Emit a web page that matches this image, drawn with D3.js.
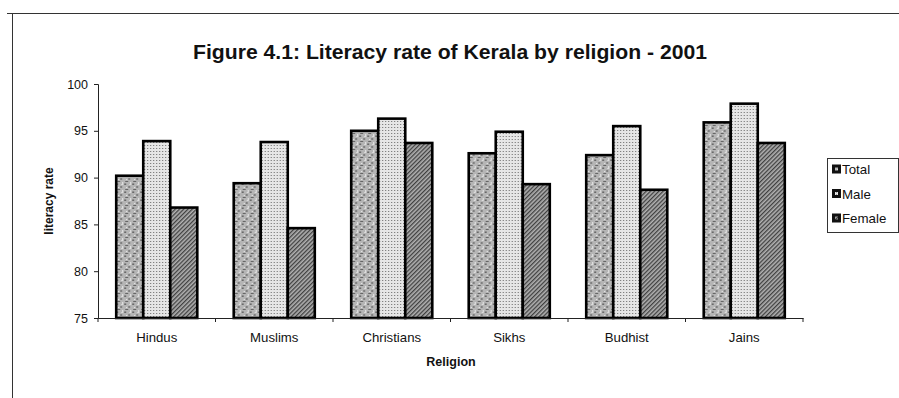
<!DOCTYPE html>
<html>
<head>
<meta charset="utf-8">
<script src="https://cdn.jsdelivr.net/npm/d3@7"></script>
<style>
  body { margin: 0; background: #fff; }
  text { font-family: "Liberation Sans", Arial, sans-serif; fill: #111; }
</style>
</head>
<body>
<div id="chart"></div>
<script>
// data
var religions = ["Hindus", "Muslims", "Christians", "Sikhs", "Budhist", "Jains"];
var series = ["Total", "Male", "Female"];
var totalRate  = [90.2, 89.4, 95.0, 92.6, 92.4, 95.9];
var maleRate   = [93.9, 93.8, 96.3, 94.9, 95.5, 97.9];
var femaleRate = [86.8, 84.6, 93.7, 89.3, 88.7, 93.7];
var yTicks = [75, 80, 85, 90, 95, 100];

var width = 899, height = 398;

var data = religions.map(function (r, i) {
  return { religion: r, Total: totalRate[i], Male: maleRate[i], Female: femaleRate[i] };
});

var svg = d3.select("#chart").append("svg")
  .attr("width", width)
  .attr("height", height);

// fill textures
var defs = svg.append("defs");

var pTotal = defs.append("pattern").attr("id", "pat-Total")
  .attr("patternUnits", "userSpaceOnUse").attr("width", 8).attr("height", 8);
pTotal.append("rect").attr("width", 8).attr("height", 8).attr("fill", "#b5b5b5");
[[0,0,2,1,"#6a6a6a"],[4,2,2,2,"#808080"],[1,5,3,1,"#666"],[6,6,1,2,"#e8e8e8"],[2,3,1,1,"#eee"],[5,0,2,1,"#ddd"],[0,7,2,1,"#8a8a8a"]]
  .forEach(function (r) {
    pTotal.append("rect").attr("x", r[0]).attr("y", r[1]).attr("width", r[2]).attr("height", r[3]).attr("fill", r[4]);
  });

var pMale = defs.append("pattern").attr("id", "pat-Male")
  .attr("patternUnits", "userSpaceOnUse").attr("width", 3).attr("height", 3);
pMale.append("rect").attr("width", 3).attr("height", 3).attr("fill", "#e6e6e6");
pMale.append("rect").attr("x", 1).attr("y", 1).attr("width", 1).attr("height", 1).attr("fill", "#666");

var pFemale = defs.append("pattern").attr("id", "pat-Female")
  .attr("patternUnits", "userSpaceOnUse").attr("width", 3).attr("height", 3)
  .attr("patternTransform", "rotate(45)");
pFemale.append("rect").attr("width", 3).attr("height", 3).attr("fill", "#b0b0b0");
pFemale.append("rect").attr("width", 1.3).attr("height", 3).attr("fill", "#404040");

// outer frame (only top and left edges show)
svg.append("line").attr("x1", 7).attr("x2", width).attr("y1", 13.5).attr("y2", 13.5)
  .attr("stroke", "#333").attr("stroke-width", 1);
svg.append("line").attr("x1", 12.5).attr("x2", 12.5).attr("y1", 13).attr("y2", height)
  .attr("stroke", "#333").attr("stroke-width", 1);

// scales
var x0 = d3.scaleBand().domain(religions)
  .range([98, 803])
  .paddingInner(0.31)
  .paddingOuter(0.155);

var x1 = d3.scaleBand().domain(series)
  .range([0, x0.bandwidth()]);

var y = d3.scaleLinear().domain([75, 100]).range([318, 84]);

// title
svg.append("text")
  .attr("x", 450).attr("y", 59)
  .attr("text-anchor", "middle")
  .attr("textLength", 514).attr("lengthAdjust", "spacingAndGlyphs")
  .style("font-size", "20px").style("font-weight", "bold")
  .text("Figure 4.1: Literacy rate of Kerala by religion - 2001");

// y axis
var yAxis = svg.append("g")
  .attr("transform", "translate(98,0)")
  .call(d3.axisLeft(y).tickValues(yTicks).tickSize(4).tickPadding(6));
yAxis.select(".domain").attr("stroke", "#222");
yAxis.selectAll(".tick line").attr("stroke", "#222");
yAxis.selectAll("text").style("font-size", "12.5px").style("font-family", "Liberation Sans, Arial, sans-serif").attr("fill", "#111");

svg.append("text")
  .attr("transform", "translate(53,201) rotate(-90)")
  .attr("text-anchor", "middle")
  .style("font-size", "12px").style("font-weight", "bold")
  .text("literacy rate");

// bars
var groups = svg.append("g").selectAll("g")
  .data(data).enter().append("g")
  .attr("transform", function (d) { return "translate(" + x0(d.religion) + ",0)"; });

groups.selectAll("rect")
  .data(function (d) { return series.map(function (s) { return { key: s, value: d[s] }; }); })
  .enter().append("rect")
  .attr("x", function (d) { return x1(d.key); })
  .attr("y", function (d) { return y(d.value); })
  .attr("width", x1.bandwidth())
  .attr("height", function (d) { return y(75) - y(d.value); })
  .attr("fill", function (d) { return "url(#pat-" + d.key + ")"; })
  .attr("stroke", "#000")
  .attr("stroke-width", 2.6);

// x axis
var xAxis = svg.append("g")
  .attr("transform", "translate(0,318)")
  .call(d3.axisBottom(x0).tickSize(0).tickPadding(15));
xAxis.select(".domain").attr("stroke", "#222");
xAxis.selectAll("text").style("font-size", "13.2px").style("font-family", "Liberation Sans, Arial, sans-serif").attr("fill", "#111");

var gap = (x0.step() - x0.bandwidth()) / 2;
var bounds = religions.map(function (r) { return x0(r) - gap; }).concat([x0.range()[1]]);
xAxis.selectAll(".bound").data(bounds).enter().append("line")
  .attr("class", "bound")
  .attr("x1", function (d) { return d; }).attr("x2", function (d) { return d; })
  .attr("y1", 0).attr("y2", 4)
  .attr("stroke", "#222");

svg.append("text")
  .attr("x", 451).attr("y", 366)
  .attr("text-anchor", "middle")
  .style("font-size", "12.5px").style("font-weight", "bold")
  .text("Religion");

// legend
var legend = svg.append("g").attr("transform", "translate(827,158)");
legend.append("rect").attr("x", 0.5).attr("y", 0.5).attr("width", 71).attr("height", 74)
  .attr("fill", "#fff").attr("stroke", "#333").attr("stroke-width", 1);

var items = legend.selectAll(".item").data(series).enter().append("g")
  .attr("class", "item")
  .attr("transform", function (d, i) { return "translate(5," + (11 + i * 24.5) + ")"; });
items.append("rect").attr("x", 0).attr("y", -4.5).attr("width", 9).attr("height", 9)
  .attr("fill", "#111");
items.append("rect").attr("x", 3).attr("y", -1.5).attr("width", 3).attr("height", 3)
  .attr("fill", function (d) { return "url(#pat-" + d + ")"; });
items.append("text").attr("x", 10).attr("y", 5)
  .style("font-size", "13.3px")
  .text(function (d) { return d; });
</script>
</body>
</html>
